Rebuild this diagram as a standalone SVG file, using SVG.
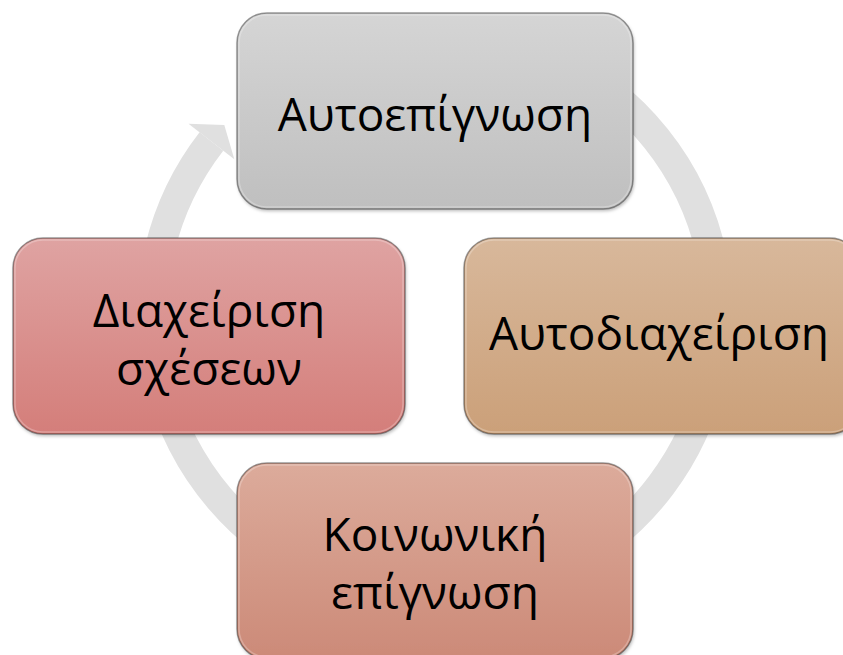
<svg xmlns="http://www.w3.org/2000/svg" width="843" height="655" viewBox="0 0 843 655">
  <style>
    .box { stroke: #000; stroke-opacity: 0.38; stroke-width: 1.5; filter: url(#sh); }
    .hl { fill: none; stroke: #fff; stroke-opacity: 0.25; stroke-width: 1.5; }
    .lbl { font-family: "Open Sans", "Noto Sans", "DejaVu Sans", sans-serif; font-size: 46px; fill: #000; text-anchor: middle; }
    .ring { fill: none; stroke: #e0e0e0; stroke-width: 30; }
    .head { fill: #e0e0e0; }
  </style>
  <defs>
    <filter id="sh" x="-10%" y="-10%" width="120%" height="130%">
      <feDropShadow dx="1" dy="2" stdDeviation="1.5" flood-color="#000" flood-opacity="0.25"/>
    </filter>
    <linearGradient id="gGray" x1="0" y1="0" x2="0" y2="1">
      <stop offset="0" stop-color="#d5d5d5"/>
      <stop offset="1" stop-color="#bfbfbf"/>
    </linearGradient>
    <linearGradient id="gTan" x1="0" y1="0" x2="0" y2="1">
      <stop offset="0" stop-color="#d8b89b"/>
      <stop offset="1" stop-color="#cba079"/>
    </linearGradient>
    <linearGradient id="gRose" x1="0" y1="0" x2="0" y2="1">
      <stop offset="0" stop-color="#dfa3a2"/>
      <stop offset="1" stop-color="#d47e7a"/>
    </linearGradient>
    <linearGradient id="gSalmon" x1="0" y1="0" x2="0" y2="1">
      <stop offset="0" stop-color="#dcab9b"/>
      <stop offset="1" stop-color="#cc8a78"/>
    </linearGradient>
  </defs>
  <rect width="843" height="655" fill="#fff"/>

  <g id="connectors">
    <path class="ring" d="M435,32 A283,283 0 1 1 211.4,141.5"/>
    <polygon class="head" points="188.5,123.7 224.3,124.9 234.3,159.3"/>
  </g>

  <g id="node-top">
    <rect class="box" x="237" y="13" width="396" height="196" rx="30" fill="url(#gGray)"/>
    <rect class="hl" x="239" y="15" width="392" height="192" rx="28"/>
    <text class="lbl" x="435" y="131">Αυτοεπίγνωση</text>
  </g>

  <g id="node-right">
    <rect class="box" x="464" y="238" width="396" height="196" rx="30" fill="url(#gTan)"/>
    <rect class="hl" x="466" y="240" width="392" height="192" rx="28"/>
    <text class="lbl" x="659" y="350">Αυτοδιαχείριση</text>
  </g>

  <g id="node-bottom">
    <rect class="box" x="237" y="463" width="396" height="196" rx="30" fill="url(#gSalmon)"/>
    <rect class="hl" x="239" y="465" width="392" height="192" rx="28"/>
    <text class="lbl" x="435" y="551">Κοινωνική</text>
    <text class="lbl" x="435" y="609">επίγνωση</text>
  </g>

  <g id="node-left">
    <rect class="box" x="13" y="238" width="392" height="196" rx="30" fill="url(#gRose)"/>
    <rect class="hl" x="15" y="240" width="388" height="192" rx="28"/>
    <text class="lbl" x="209" y="327">Διαχείριση</text>
    <text class="lbl" x="209" y="385">σχέσεων</text>
  </g>
</svg>
